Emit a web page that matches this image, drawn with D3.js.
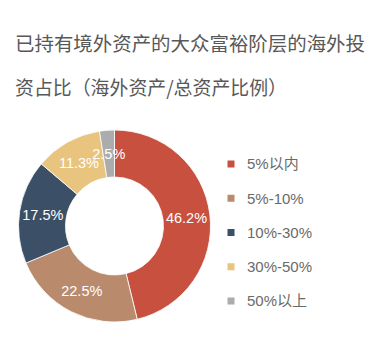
<!DOCTYPE html>
<html>
<head>
<meta charset="utf-8">
<script src="https://cdn.jsdelivr.net/npm/d3@7"></script>
<style>
  html, body { margin: 0; padding: 0; background: #fff; }
  svg { display: block; font-family: "Liberation Sans", "Noto Sans CJK SC", sans-serif; }
</style>
</head>
<body>
<div id="chart"></div>
<script>
// chart data
const titleLines = ["已持有境外资产的大众富裕阶层的海外投", "资占比（海外资产/总资产比例）"];
const titleWidths = [350, 272];
const categories = ["5%以内", "5%-10%", "10%-30%", "30%-50%", "50%以上"];
const shares = [46.2, 22.5, 17.5, 11.3, 2.5];
const colors = ["#c8503f", "#b98b6c", "#3b5066", "#e8c47f", "#acacac"];

const width = 374, height = 337;
const cx = 114.5, cy = 226;
const outerR = 96, innerR = 49;

const svg = d3.select("#chart")
    .append("svg")
    .attr("width", width)
    .attr("height", height);

// title, squeezed to the widths
svg.append("g")
    .selectAll("text")
    .data(titleLines)
    .enter()
    .append("text")
    .attr("x", 15)
    .attr("y", (d, i) => 51 + i * 44)
    .attr("font-family", "'Noto Sans CJK SC', sans-serif")
    .attr("font-size", "19.5px")
    .attr("fill", "#585858")
    .attr("textLength", (d, i) => titleWidths[i])
    .attr("lengthAdjust", "spacingAndGlyphs")
    .text(d => d);

const data = categories.map((c, i) => ({ name: c, value: shares[i], color: colors[i] }));

const pie = d3.pie()
    .sort(null)
    .value(d => d.value);

const arc = d3.arc()
    .innerRadius(innerR)
    .outerRadius(outerR);

const labelArc = d3.arc()
    .innerRadius((innerR + outerR) / 2)
    .outerRadius((innerR + outerR) / 2);

const g = svg.append("g")
    .attr("transform", `translate(${cx}, ${cy})`);

const arcs = pie(data);

g.selectAll("path")
    .data(arcs)
    .enter()
    .append("path")
    .attr("d", arc)
    .attr("fill", d => d.data.color)
    .attr("stroke", "#fff")
    .attr("stroke-width", 0.8);

g.selectAll("text")
    .data(arcs)
    .enter()
    .append("text")
    .attr("transform", d => `translate(${labelArc.centroid(d)})`)
    .attr("text-anchor", "middle")
    .attr("dy", "0.36em")
    .attr("font-size", "14.5px")
    .attr("fill", "#fff")
    .text(d => `${d.data.value}%`);

// legend
const legendY = d3.scalePoint()
    .domain(categories)
    .range([164, 301]);

const legend = svg.append("g")
    .selectAll("g")
    .data(data)
    .enter()
    .append("g")
    .attr("transform", d => `translate(231, ${legendY(d.name)})`);

legend.append("rect")
    .attr("x", -3.5)
    .attr("y", -3.5)
    .attr("width", 7)
    .attr("height", 7)
    .attr("fill", d => d.color);

legend.append("text")
    .attr("x", 16)
    .attr("dy", "0.36em")
    .attr("font-size", "15px")
    .attr("fill", "#6a6a6a")
    .text(d => d.name);
</script>
</body>
</html>
